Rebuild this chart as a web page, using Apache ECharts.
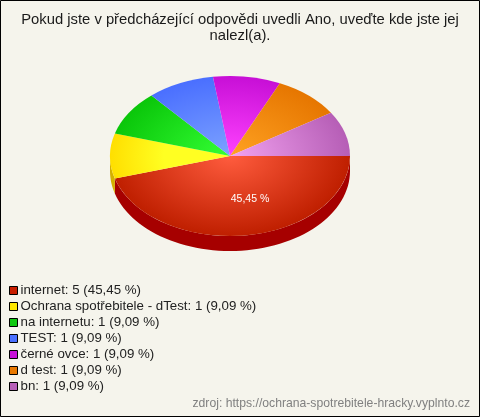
<!DOCTYPE html>
<html><head><meta charset="utf-8">
<style>html,body{margin:0;padding:0;background:#f5f4ec}#c{width:480px;height:417px}</style>
<script src="https://cdn.jsdelivr.net/npm/echarts@6/dist/echarts.min.js"></script>
</head><body><div id="c"></div>
<script>
const categories = ['internet','Ochrana spotřebitele - dTest','na internetu','TEST','černé ovce','d test','bn'];
const values = [5,1,1,1,1,1,1];
const percents = ['45,45','9,09','9,09','9,09','9,09','9,09','9,09'];
const innerColors = ['#ff5c3e','#ffff22','#34ff34','#7ca2ff','#ff42ff','#ffa222','#f2a2f0'];
const outerColors = ['#bf1f00','#ffdf00','#0ac60a','#4a6fff','#c70fd6','#e67600','#b65eb6'];
const innerStops = [0,0.55,0,0,0,0,0];
const sideColors = ['#a60000','#d4b000','#089008','#3a55c0','#900aa0','#b05a00','#8a4a8a'];
const legendColors = ['#c81e00','#ffe800','#10c810','#4a70ff','#c810d8','#e87800','#b860b8'];
const title = 'Pokud jste v předcházející odpovědi uvedli Ano, uveďte kde jste jej\nnalezl(a).';
const source = 'zdroj: https://ochrana-spotrebitele-hracky.vyplnto.cz';
const sliceLabel = '45,45 %';

const CX=230, CY=156, RX=120, RY=80, DEPTH=15;
const total = values.reduce((a,b)=>a+b,0);
const names = categories.map((c,i)=>c+': '+values[i]+' ('+percents[i]+' %)');
const chart = echarts.init(document.getElementById('c'),null,{renderer:'canvas'});

function sliceRender(i){
  return function(){
    const before = values.slice(0,i).reduce((a,b)=>a+b,0);
    const a0 = before/total*Math.PI*2, a1 = (before+values[i])/total*Math.PI*2;
    const children = [];
    const s0 = Math.max(a0,0), s1 = Math.min(a1,Math.PI);
    if (s1 > s0) {
      const top=[], bottom=[];
      for (let k=0;k<=60;k++){
        const a = s0+(s1-s0)*k/60;
        const x = CX+RX*Math.cos(a), y = CY+RY*Math.sin(a);
        top.push([x,y]); bottom.unshift([x,y+DEPTH]);
      }
      children.push({type:'polygon',shape:{points:top.concat(bottom)},style:{fill:sideColors[i]}});
    }
    children.push({type:'group',x:CX,y:CY,scaleY:RY/RX,children:[{
      type:'sector',
      shape:{cx:0,cy:0,r0:0,r:RX,startAngle:a0,endAngle:a1,clockwise:true},
      style:{fill:{type:'radial',x:0,y:0,r:RX,global:true,
        colorStops:[{offset:innerStops[i],color:innerColors[i]},{offset:1,color:outerColors[i]}]}}
    }]});
    if (i===0) children.push({type:'text',x:250,y:199,z2:10,style:{
      text:sliceLabel,fill:'#fff',font:'10.5px "Liberation Sans"',align:'center',verticalAlign:'middle'}});
    return {type:'group',children};
  };
}

chart.setOption({
  animation:false,
  backgroundColor:'#f5f4ec',
  title:{text:title,left:240,top:12,padding:0,textAlign:'center',
    textStyle:{fontFamily:'Liberation Sans',fontSize:14.8,fontWeight:'normal',color:'#1a1a1a',lineHeight:16}},
  legend:{orient:'vertical',left:9,top:284,padding:0,itemGap:3,itemWidth:8,itemHeight:8,selectedMode:false,icon:'rect',
    data:names.map((n,i)=>({name:n,itemStyle:{color:legendColors[i],borderColor:'#000',borderWidth:1}})),
    textStyle:{fontFamily:'Liberation Sans',fontSize:13.3,color:'#222',padding:[0,0,0,-2],lineHeight:13}},
  graphic:[
    {type:'rect',silent:true,z:100,shape:{x:0.5,y:0.5,width:479,height:416},style:{fill:'none',stroke:'#000',lineWidth:1}},
    {type:'text',silent:true,x:470,y:404,style:{text:source,fill:'#808080',font:'12.2px "Liberation Sans"',align:'right',verticalAlign:'middle'}}
  ],
  series:names.map((n,i)=>({type:'custom',name:n,coordinateSystem:'none',silent:true,
    itemStyle:{color:legendColors[i]},data:[[values[i]]],renderItem:sliceRender(i)}))
});
</script></body></html>
